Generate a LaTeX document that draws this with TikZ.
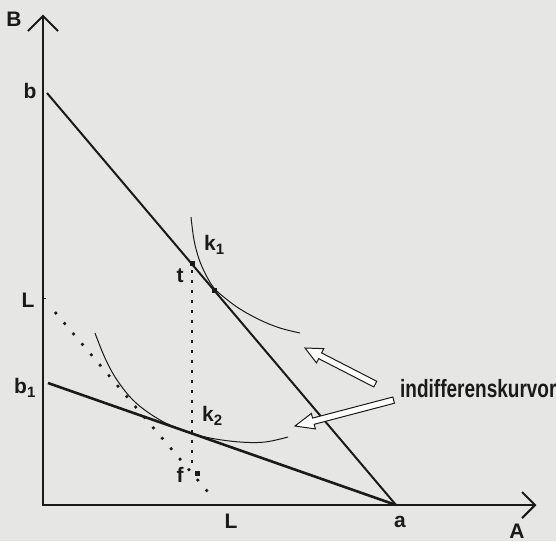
\documentclass[tikz,border=0pt]{standalone}
\usepackage{fontspec}
\usepackage{graphicx}
\setmainfont{Liberation Sans}
\usetikzlibrary{calc}
\definecolor{paper}{HTML}{E6E6E4}
\definecolor{ink}{HTML}{1A1A1A}
\newcommand{\lsub}[2]{#1\raisebox{-4pt}{\fontsize{15}{15}\selectfont #2}}
\begin{document}
\begin{tikzpicture}[x=1pt,y=-1pt,
  lbl/.style={inner sep=0pt, anchor=base, text=ink, font=\bfseries\fontsize{21}{21}\selectfont},
  axisline/.style={line width=2.1pt, draw=ink, line join=miter},
  budget/.style={line width=2pt, draw=ink},
  budgetthick/.style={line width=2.6pt, draw=ink},
  curveline/.style={line width=1pt, draw=ink},
  dotline/.style={line width=2.6pt, draw=ink, dash pattern=on 2.6pt off 11.1pt},
  vdots/.style={line width=2.6pt, draw=ink, dash pattern=on 2.6pt off 7.4pt},
  marker/.style={fill=ink, minimum size=5pt, inner sep=0pt},
  hollow/.style={draw=ink, fill=white, line width=1pt, line join=miter}]
\fill[paper] (0,0) rectangle (556,541);
\useasboundingbox (0,0) rectangle (556,541);

% key points
\coordinate (O) at (43,505);
\coordinate (Btip) at (43,16);
\coordinate (Atip) at (535,505);
\coordinate (b) at (47,93);
\coordinate (a) at (396,505);
\coordinate (b1) at (48,383);
\coordinate (Lv) at (43,298);
\coordinate (Lh) at (219,505);
\coordinate (t) at (192,264);
\coordinate (f) at (192,473);
\coordinate (tk1) at (214,290);

% axes
\draw[axisline] (Btip) -- (O) -- (Atip);
\draw[axisline] ($(Btip)+(-15,15)$) -- (Btip) -- ($(Btip)+(15,15)$);
\draw[axisline] ($(Atip)+(-13,-13)$) -- (Atip) -- ($(Atip)+(-13,13)$);
\draw[line width=1pt, draw=ink] (Lv) -- ++(3,0);

% budget lines
\draw[budget] (b) -- (a);
\draw[budgetthick] (b1) -- (a);

% dotted lines
\draw[dotline] ($(Lv)!0.068!(Lh)$) -- ($(Lh)!0.03!(Lv)$);
\draw[vdots] ($(t)+(0,6)$) -- ($(f)+(0,-6)$);

% indifference curves
\draw[curveline] plot[smooth, tension=0.6] coordinates {(191,217) (194,240) (199,259) (206,275) (214,288) (225,298) (240,309) (260,320) (280,328) (300,333)};
\draw[curveline] plot[smooth, tension=0.6] coordinates {(95,333) (105,358) (117,380) (135,402) (160,420) (185,431) (210,438) (240,442) (265,442) (288,437)};

% markers
\node[marker] (mt) at ($(t)+(0,-1)$) {};
\node[marker] (mk1) at (tk1) {};
\node[marker] (mf) at ($(f)+(5,0)$) {};

% hollow arrows
\coordinate (h1tip) at (305,348);
\coordinate (h2tip) at (295,426);
\begin{scope}[shift={(h1tip)}, rotate=-27.2]
  \draw[hollow] (0,0) -- (17,8) -- (17,3.2) -- (79,3.2) -- (79,-3.2) -- (17,-3.2) -- (17,-8) -- cycle;
\end{scope}
\begin{scope}[shift={(h2tip)}, rotate=14.7]
  \draw[hollow] (0,0) -- (19,8) -- (19,3.2) -- (102,3.2) -- (102,-3.2) -- (19,-3.2) -- (19,-8) -- cycle;
\end{scope}

% labels
\node[lbl] (lB) at (14,26) {B};
\node[lbl] (lb) at (30,98) {b};
\node[lbl] (lLv) at (28,307) {L};
\node[lbl, anchor=base west] (lb1) at (14,393) {\lsub{b}{1}};
\node[lbl] (lt) at (180,282) {t};
\node[lbl] (lf) at (180,482) {f};
\node[lbl, anchor=base west] (lk1) at (204,250) {\lsub{k}{1}};
\node[lbl, anchor=base west] (lk2) at (202,421) {\lsub{k}{2}};
\node[lbl] (lLh) at (231,528) {L};
\node[lbl] (la) at (400,527) {a};
\node[lbl] (lA) at (517,538) {A};
\node[inner sep=0pt, anchor=base west, text=ink, font=\bfseries\fontsize{25}{25}\selectfont] (indiff) at (400,397) {\scalebox{0.76}[1]{indifferenskurvor}};
\end{tikzpicture}
\end{document}
